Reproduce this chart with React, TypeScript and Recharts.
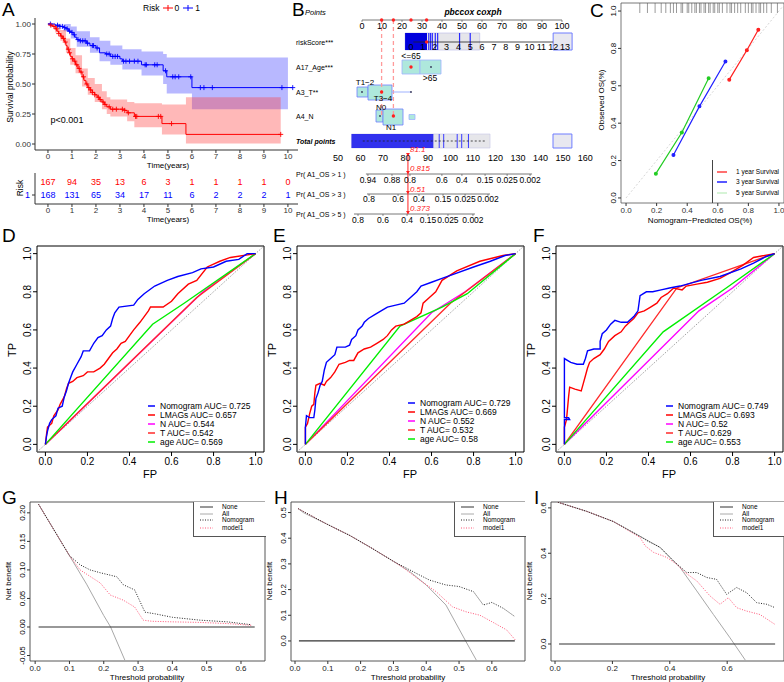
import React from "react";
import {
  ComposedChart,
  Line,
  Area,
  Scatter,
  XAxis,
  YAxis,
  ReferenceLine,
  ReferenceArea,
} from "recharts";

const FONT = "'Liberation Sans', Arial, Helvetica, sans-serif";
const RED = "#ff0000";
const BLUE = "#0000ff";

// ---------- A: Kaplan-Meier ----------
const kmTicks = [0, 1, 2, 3, 4, 5, 6, 7, 8, 9, 10];
const kmRisk0 = [
  [0, 1], [0.12, 0.99], [0.2, 0.98], [0.3, 0.96], [0.38, 0.94], [0.45, 0.92], [0.52, 0.9],
  [0.6, 0.88], [0.68, 0.85], [0.75, 0.82], [0.8, 0.79], [0.87, 0.76], [0.93, 0.73], [1.0, 0.71],
  [1.08, 0.69], [1.15, 0.66], [1.25, 0.63], [1.33, 0.6], [1.42, 0.56], [1.5, 0.53], [1.58, 0.5],
  [1.66, 0.47], [1.75, 0.45], [1.85, 0.43], [1.95, 0.41], [2.05, 0.39], [2.15, 0.37], [2.25, 0.35],
  [2.35, 0.33], [2.45, 0.31], [2.6, 0.29], [3.2, 0.28], [3.3, 0.26], [3.6, 0.23], [4.75, 0.17],
  [5.75, 0.08], [9.7, 0.08],
];
const kmRisk1 = [
  [0, 1], [0.3, 0.99], [0.5, 0.98], [0.65, 0.97], [0.75, 0.96], [0.85, 0.94], [0.95, 0.93],
  [1.05, 0.91], [1.12, 0.89], [1.2, 0.87], [1.3, 0.86], [1.6, 0.84], [1.75, 0.82], [2.0, 0.8],
  [2.15, 0.76], [2.4, 0.75], [2.6, 0.73], [3.0, 0.71], [3.1, 0.69], [3.9, 0.66], [4.8, 0.61],
  [4.95, 0.56], [6.0, 0.47], [10.2, 0.47],
];
const kmBand0 = [
  [0, 1, 1], [0.3, 0.93, 0.99], [0.52, 0.86, 0.95], [0.75, 0.76, 0.88], [0.93, 0.66, 0.8],
  [1.15, 0.59, 0.74], [1.42, 0.48, 0.63], [1.66, 0.41, 0.55], [1.95, 0.35, 0.5], [2.25, 0.29, 0.44],
  [2.45, 0.25, 0.39], [2.6, 0.23, 0.37], [3.3, 0.19, 0.35], [3.6, 0.14, 0.34], [4.75, 0.08, 0.33],
  [5.75, 0.005, 0.39], [9.7, 0.005, 0.39],
];
const kmBand1 = [
  [0, 1, 1], [0.65, 0.94, 1], [0.95, 0.88, 0.98], [1.2, 0.81, 0.94], [1.75, 0.76, 0.89],
  [2.15, 0.69, 0.86], [2.6, 0.66, 0.82], [3.1, 0.62, 0.79], [3.9, 0.57, 0.77], [4.8, 0.5, 0.75],
  [4.95, 0.42, 0.72], [6.0, 0.29, 0.72], [10.0, 0.29, 0.72],
];
const kmCensor0 = [
  0.12, 0.25, 0.35, 0.45, 0.55, 0.65, 0.72, 0.85, 0.9, 1.02, 1.12, 1.2, 1.3, 1.38, 1.48, 1.62,
  1.7, 1.78, 1.85, 1.95, 2.1, 2.18, 2.3, 2.38, 2.55, 2.7, 2.85, 3.1, 3.2, 3.35, 3.65, 3.7, 4.6,
  4.7, 5.15, 9.7,
];
const kmCensor1 = [
  0.1, 0.4, 0.5, 0.6, 0.7, 0.8, 0.9, 1.0, 1.1, 1.25, 1.35, 1.45, 1.55, 1.65, 1.85, 1.9, 2.05,
  2.45, 2.55, 2.7, 2.8, 2.9, 3.15, 3.25, 3.4, 3.6, 3.75, 4.05, 4.1, 4.45, 4.55, 4.9, 5.2, 5.3,
  5.45, 5.95, 6.35, 6.5, 6.85, 9.75, 10.2,
];
const riskN0 = [167, 94, 35, 13, 6, 3, 1, 1, 1, 1, 0];
const riskN1 = [168, 131, 65, 34, 17, 11, 6, 2, 2, 2, 1];

// ---------- B: nomogram ----------
const nomoPointTicks = [0, 10, 20, 30, 40, 50, 60, 70, 80, 90, 100];
const nomoRiskTicks = [0, 1, 2, 3, 4, 5, 6, 7, 8, 9, 10, 11, 12, 13];
const nomoRiskObs = [1.5, 1.65, 1.8, 2.05, 2.25, 4.1, 5.0];
const nomoTotalTicks = [50, 60, 70, 80, 90, 100, 110, 120, 130, 140, 150, 160];
const nomoTotalObs = [95, 97, 103, 105, 108];
const pr1Labels = ["0.94", "0.88", "0.8", "0.6", "0.4", "0.15", "0.025", "0.002"];
const pr1Totals = [63.3, 74.0, 82.0, 96.2, 105.1, 115.4, 125.2, 135.4];
const pr3Labels = ["0.8", "0.6", "0.4", "0.15", "0.025", "0.002"];
const pr3Totals = [63.8, 76.7, 86.0, 96.7, 106.5, 116.7];
const pr5Labels = ["0.8", "0.6", "0.4", "0.15", "0.025", "0.002"];
const pr5Totals = [58.9, 70.0, 80.7, 90.0, 98.9, 110.0];
const patientPoints = [32.3, 24.5, 9.8, 15.7]; // riskScore, age, T, N
const patientTotal = 81.1;
const patientProbs = ["0.815", "0.51", "0.373"];

// ---------- C: calibration ----------
const cal1 = [[0.675, 0.633], [0.79, 0.79], [0.865, 0.9]];
const cal3 = [[0.31, 0.23], [0.48, 0.49], [0.65, 0.73]];
const cal5 = [[0.195, 0.13], [0.365, 0.35], [0.54, 0.64]];
const calRug = [
  0.09, 0.14, 0.19, 0.23, 0.26, 0.29, 0.31, 0.33, 0.36, 0.37, 0.4, 0.41, 0.43, 0.45, 0.46, 0.48,
  0.49, 0.51, 0.52, 0.54, 0.55, 0.57, 0.58, 0.6, 0.61, 0.63, 0.66, 0.68, 0.69, 0.71, 0.73, 0.75,
  0.78, 0.8, 0.82, 0.83, 0.85, 0.87, 0.88, 0.9, 0.92, 0.95, 0.99,
];

// ---------- D/E/F: ROC ----------
const rocDNomogram = [
  [0, 0], [0.005, 0.04], [0.01, 0.07], [0.02, 0.11], [0.03, 0.13], [0.05, 0.15], [0.06, 0.19],
  [0.08, 0.2], [0.09, 0.25], [0.1, 0.28], [0.11, 0.32], [0.12, 0.35], [0.13, 0.38], [0.15, 0.42],
  [0.17, 0.46], [0.18, 0.49], [0.21, 0.49], [0.23, 0.53], [0.25, 0.56], [0.27, 0.57], [0.29, 0.6],
  [0.31, 0.62], [0.32, 0.66], [0.33, 0.69], [0.35, 0.72], [0.42, 0.73], [0.44, 0.76], [0.47, 0.79],
  [0.52, 0.83], [0.58, 0.86], [0.63, 0.88], [0.7, 0.9], [0.74, 0.92], [0.8, 0.93], [0.86, 0.96],
  [0.92, 0.97], [0.96, 1.0], [1, 1],
];
const rocDLmags = [
  [0, 0], [0.005, 0.05], [0.01, 0.09], [0.02, 0.1], [0.03, 0.11], [0.04, 0.15], [0.06, 0.18],
  [0.07, 0.21], [0.09, 0.25], [0.1, 0.29], [0.11, 0.32], [0.13, 0.33], [0.15, 0.35], [0.18, 0.36],
  [0.2, 0.38], [0.23, 0.38], [0.26, 0.4], [0.28, 0.42], [0.3, 0.45], [0.32, 0.48], [0.34, 0.5],
  [0.36, 0.53], [0.38, 0.54], [0.4, 0.57], [0.42, 0.6], [0.45, 0.64], [0.47, 0.67], [0.49, 0.7],
  [0.5, 0.72], [0.56, 0.72], [0.6, 0.75], [0.63, 0.79], [0.68, 0.84], [0.72, 0.86], [0.77, 0.93],
  [0.83, 0.96], [0.88, 0.98], [1, 1],
];
const rocDN = [[0, 0], [0.75, 0.8], [1, 1]];
const rocDT = [[0, 0], [0.72, 0.77], [1, 1]];
const rocDAge = [[0, 0], [0.51, 0.63], [0.66, 0.74], [1, 1]];

const rocENomogram = [
  [0, 0], [0, 0.09], [0.005, 0.15], [0.02, 0.14], [0.04, 0.14], [0.045, 0.18], [0.05, 0.24],
  [0.06, 0.27], [0.07, 0.31], [0.08, 0.33], [0.09, 0.39], [0.1, 0.43], [0.12, 0.45], [0.14, 0.47],
  [0.15, 0.51], [0.19, 0.51], [0.21, 0.52], [0.22, 0.55], [0.24, 0.57], [0.25, 0.6], [0.27, 0.62],
  [0.28, 0.64], [0.3, 0.66], [0.33, 0.68], [0.36, 0.7], [0.39, 0.72], [0.43, 0.73], [0.47, 0.74],
  [0.5, 0.77], [0.53, 0.8], [0.55, 0.83], [0.6, 0.85], [0.65, 0.87], [0.7, 0.89], [0.8, 0.93],
  [0.88, 0.96], [0.95, 0.99], [1, 1],
];
const rocELmags = [
  [0, 0], [0, 0.09], [0.01, 0.11], [0.02, 0.16], [0.03, 0.2], [0.04, 0.21], [0.045, 0.27],
  [0.05, 0.31], [0.07, 0.32], [0.09, 0.31], [0.1, 0.33], [0.12, 0.35], [0.14, 0.38], [0.16, 0.42],
  [0.19, 0.43], [0.21, 0.44], [0.23, 0.44], [0.25, 0.48], [0.28, 0.5], [0.31, 0.51], [0.34, 0.53],
  [0.37, 0.55], [0.39, 0.57], [0.41, 0.6], [0.43, 0.62], [0.47, 0.63], [0.5, 0.65], [0.53, 0.67],
  [0.55, 0.69], [0.56, 0.74], [0.59, 0.77], [0.62, 0.8], [0.65, 0.86], [0.72, 0.91], [0.83, 0.96],
  [0.94, 0.99], [1, 1],
];
const rocEN = [[0, 0], [0.6, 0.69], [0.76, 0.8], [1, 1]];
const rocET = [[0, 0], [0.69, 0.74], [1, 1]];
const rocEAge = [[0, 0], [0.45, 0.62], [0.65, 0.72], [0.77, 0.79], [1, 1]];

const rocFNomogram = [
  [0, 0], [0, 0.13], [0.025, 0.13], [0.02, 0.14], [0, 0.14], [0, 0.45], [0.03, 0.43], [0.06, 0.42],
  [0.09, 0.42], [0.1, 0.45], [0.11, 0.49], [0.14, 0.5], [0.17, 0.5], [0.17, 0.54], [0.18, 0.58],
  [0.2, 0.6], [0.22, 0.63], [0.24, 0.65], [0.27, 0.64], [0.3, 0.64], [0.33, 0.67], [0.35, 0.7],
  [0.355, 0.74], [0.36, 0.78], [0.39, 0.8], [0.42, 0.8], [0.46, 0.81], [0.5, 0.82], [0.55, 0.83],
  [0.65, 0.86], [0.74, 0.88], [0.84, 0.92], [0.9, 0.95], [0.96, 0.985], [1, 1],
];
const rocFLmags = [
  [0, 0], [0, 0.09], [0.01, 0.13], [0.02, 0.25], [0.025, 0.3], [0.05, 0.29], [0.08, 0.28],
  [0.09, 0.32], [0.1, 0.36], [0.11, 0.4], [0.12, 0.43], [0.14, 0.45], [0.17, 0.47], [0.19, 0.5],
  [0.21, 0.54], [0.24, 0.57], [0.27, 0.59], [0.29, 0.62], [0.31, 0.64], [0.33, 0.66], [0.35, 0.69],
  [0.38, 0.7], [0.41, 0.72], [0.44, 0.74], [0.46, 0.77], [0.49, 0.79], [0.52, 0.82], [0.56, 0.81],
  [0.58, 0.83], [0.63, 0.84], [0.68, 0.85], [0.74, 0.87], [0.79, 0.9], [0.85, 0.94], [0.9, 0.98],
  [1, 1],
];
const rocFN = [[0, 0], [0.64, 0.7], [0.8, 0.82], [1, 1]];
const rocFT = [[0, 0], [0.535, 0.82], [1, 1]];
const rocFAge = [[0, 0], [0.47, 0.59], [0.77, 0.82], [1, 1]];

const aucD = [0.725, 0.657, 0.544, 0.542, 0.569];
const aucE = [0.729, 0.669, 0.552, 0.532, 0.58];
const aucF = [0.749, 0.693, 0.52, 0.629, 0.553];

// ---------- G/H/I: decision curves ----------
const dcaGNone = [[0.01, 0], [0.64, 0]];
const dcaGAll = [[0.01, 0.215], [0.05, 0.175], [0.1, 0.125], [0.15, 0.075], [0.2, 0.02], [0.22, 0.0], [0.27, -0.07]];
const dcaGNomogram = [
  [0.01, 0.215], [0.05, 0.175], [0.1, 0.125], [0.131, 0.109], [0.16, 0.1], [0.19, 0.095],
  [0.238, 0.088], [0.257, 0.074], [0.29, 0.065], [0.32, 0.026], [0.35, 0.023], [0.4, 0.017],
  [0.48, 0.012], [0.56, 0.009], [0.63, 0.004],
];
const dcaGModel1 = [
  [0.01, 0.215], [0.05, 0.175], [0.1, 0.125], [0.131, 0.1], [0.19, 0.077], [0.219, 0.056],
  [0.257, 0.047], [0.29, 0.035], [0.315, 0.012], [0.34, 0.01], [0.4, 0.009], [0.48, 0.008],
  [0.56, 0.006], [0.63, 0.003],
];
const dcaHNone = [[0.012, 0], [0.67, 0]];
const dcaHAll = [
  [0.01, 0.515], [0.025, 0.5], [0.097, 0.455], [0.168, 0.41], [0.229, 0.365], [0.3, 0.31],
  [0.35, 0.27], [0.4, 0.218], [0.46, 0.14], [0.52, 0.0], [0.555, -0.08],
];
const dcaHNomogram = [
  [0.01, 0.515], [0.097, 0.455], [0.168, 0.41], [0.229, 0.365], [0.3, 0.31], [0.33, 0.29],
  [0.37, 0.263], [0.41, 0.237], [0.46, 0.218], [0.5, 0.212], [0.544, 0.192], [0.574, 0.14],
  [0.6, 0.15], [0.635, 0.127], [0.67, 0.095],
];
const dcaHModel1 = [
  [0.01, 0.515], [0.097, 0.455], [0.168, 0.41], [0.229, 0.365], [0.3, 0.31], [0.33, 0.285],
  [0.38, 0.237], [0.43, 0.192], [0.48, 0.133], [0.52, 0.114], [0.564, 0.1], [0.6, 0.075],
  [0.645, 0.043], [0.674, 0.0],
];
const dcaINone = [[0.014, 0], [0.767, 0]];
const dcaIAll = [
  [0.01, 0.625], [0.11, 0.585], [0.203, 0.54], [0.296, 0.475], [0.366, 0.426], [0.436, 0.337],
  [0.494, 0.234], [0.552, 0.13], [0.61, 0.027], [0.668, -0.08],
];
const dcaINomogram = [
  [0.01, 0.625], [0.11, 0.585], [0.203, 0.54], [0.296, 0.475], [0.32, 0.456], [0.366, 0.426],
  [0.412, 0.367], [0.459, 0.315], [0.494, 0.315], [0.529, 0.293], [0.563, 0.285], [0.598, 0.219],
  [0.633, 0.249], [0.668, 0.226], [0.703, 0.182], [0.738, 0.175], [0.767, 0.16],
];
const dcaIModel1 = [
  [0.01, 0.625], [0.11, 0.585], [0.203, 0.54], [0.296, 0.47], [0.314, 0.433], [0.343, 0.404],
  [0.389, 0.382], [0.424, 0.352], [0.453, 0.315], [0.494, 0.278], [0.54, 0.212], [0.575, 0.175],
  [0.604, 0.204], [0.633, 0.16], [0.668, 0.145], [0.714, 0.13], [0.767, 0.086],
];

// ---------- helpers ----------
const xy = (rows: number[][]) => rows.map(([x, y]) => ({ x, y }));
const stepAt = (rows: number[][], t: number) => {
  let s = rows[0][1];
  for (const r of rows) if (r[0] <= t) s = r[1];
  return s;
};

const Txt = ({ x, y, s = 8, rot = 0, anchor = "middle", color = "#000", bold = false, italic = false, children }: any) => {
  const tx = anchor === "start" ? "0" : anchor === "end" ? "-100%" : "-50%";
  return (
    <div
      style={{
        position: "absolute",
        left: x,
        top: y,
        transform: `translate(${tx}, -50%) rotate(${rot}deg)`,
        fontSize: s,
        color,
        whiteSpace: "nowrap",
        lineHeight: 1,
        fontWeight: bold ? "bold" : "normal",
        fontStyle: italic ? "italic" : "normal",
      }}
    >
      {children}
    </div>
  );
};

const Letter = ({ x, y, children }: any) => (
  <div style={{ position: "absolute", left: x, top: y, fontSize: 19, lineHeight: 1 }}>{children}</div>
);

// small legend key line drawn as svg so the colour is exact
const Key = ({ x, y, w, color, dash, width = 1.5 }: any) => (
  <svg style={{ position: "absolute", left: x, top: y - 2 }} width={w} height={4}>
    <line x1={0} x2={w} y1={2} y2={2} stroke={color} strokeWidth={width} strokeDasharray={dash} />
  </svg>
);

const rotYTick = (fs: number, fmt: (v: number) => string) => (p: any) => (
  <text
    x={p.x}
    y={p.y}
    transform={`rotate(-90 ${p.x} ${p.y})`}
    textAnchor="middle"
    fontSize={fs}
    fill="#000"
  >
    {fmt(p.payload.value)}
  </text>
);

const plusShape = (color: string) => (p: any) => (
  <g stroke={color} strokeWidth={0.9}>
    <line x1={p.cx - 2.5} x2={p.cx + 2.5} y1={p.cy} y2={p.cy} />
    <line x1={p.cx} x2={p.cx} y1={p.cy - 2.5} y2={p.cy + 2.5} />
  </g>
);

// ---------- Panel A ----------
function PanelA() {
  const curve0 = kmRisk0.map(([t, s]) => ({ t, s }));
  const curve1 = kmRisk1.map(([t, s]) => ({ t, s }));
  const band0 = kmBand0.map(([t, lo, hi]) => ({ t, lo, hi }));
  const band1 = kmBand1.map(([t, lo, hi]) => ({ t, lo, hi }));
  const cens0 = kmCensor0.map((t) => ({ t, s: stepAt(kmRisk0, t) }));
  const cens1 = kmCensor1.map((t) => ({ t, s: stepAt(kmRisk1, t) }));
  const table = [
    ...kmTicks.map((t, i) => ({ t, row: 0, n: riskN0[i], color: RED })),
    ...kmTicks.map((t, i) => ({ t, row: 1, n: riskN1[i], color: BLUE })),
  ];
  const xDom: [number, number] = [-0.54, 10.42];
  return (
    <>
      <Letter x={2} y={0}>A</Letter>
      <div style={{ position: "absolute", left: 143, top: 3, fontSize: 8.5, display: "flex", alignItems: "center" }}>
        <span style={{ marginRight: 3 }}>Risk</span>
        <svg width={10} height={8}>
          <line x1={0} x2={10} y1={4} y2={4} stroke={RED} />
          <line x1={5} x2={5} y1={1} y2={7} stroke={RED} />
        </svg>
        <span style={{ margin: "0 4px 0 2px" }}>0</span>
        <svg width={10} height={8}>
          <line x1={0} x2={10} y1={4} y2={4} stroke={BLUE} />
          <line x1={5} x2={5} y1={1} y2={7} stroke={BLUE} />
        </svg>
        <span style={{ marginLeft: 2 }}>1</span>
      </div>
      <div style={{ position: "absolute", left: 0, top: 0 }}>
        <ComposedChart width={300} height={172} margin={{ top: 18, right: 2, bottom: 0, left: 0 }}>
          <XAxis type="number" dataKey="t" domain={xDom} ticks={kmTicks} allowDataOverflow height={22}
            tickSize={3} tickMargin={0} tick={{ fontSize: 8, fill: "#333" }} stroke="#333" />
          <YAxis type="number" domain={[-0.05, 1.05]} ticks={[0, 0.25, 0.5, 0.75, 1]} allowDataOverflow width={35}
            tickSize={3} tickMargin={1} tickFormatter={(v: number) => v.toFixed(2)} tick={{ fontSize: 8, fill: "#333" }} stroke="#333" />
          <Area data={band1} dataKey={(d: any) => [d.lo, d.hi]} type="stepAfter" fill="#3a3aff" fillOpacity={0.36} stroke="none" isAnimationActive={false} />
          <Area data={band0} dataKey={(d: any) => [d.lo, d.hi]} type="stepAfter" fill="#ff3a3a" fillOpacity={0.36} stroke="none" isAnimationActive={false} />
          <Line data={curve1} dataKey="s" type="stepAfter" stroke={BLUE} strokeWidth={1} dot={false} isAnimationActive={false} />
          <Line data={curve0} dataKey="s" type="stepAfter" stroke={RED} strokeWidth={1} dot={false} isAnimationActive={false} />
          <Scatter data={cens1} dataKey="s" shape={plusShape(BLUE)} isAnimationActive={false} />
          <Scatter data={cens0} dataKey="s" shape={plusShape(RED)} isAnimationActive={false} />
        </ComposedChart>
      </div>
      <Txt x={10} y={87} s={8.5} rot={-90}>Survival probability</Txt>
      <Txt x={67} y={120} s={9}>p&lt;0.001</Txt>
      <Txt x={168} y={166} s={8}>Time(years)</Txt>
      <div style={{ position: "absolute", left: 0, top: 170 }}>
        <ComposedChart width={300} height={52} margin={{ top: 3, right: 2, bottom: 0, left: 0 }}>
          <XAxis type="number" dataKey="t" domain={xDom} ticks={kmTicks} allowDataOverflow height={18}
            tickSize={3} tickMargin={0} tick={{ fontSize: 8, fill: "#333" }} stroke="#333" />
          <YAxis type="number" dataKey="row" domain={[-0.69, 1.69]} reversed ticks={[0, 1]} width={35} tickSize={3} stroke="#333"
            tick={(p: any) => (
              <text x={p.x} y={p.y} dy="0.35em" textAnchor="end" fontSize={9} fill={p.payload.value === 0 ? RED : BLUE}>
                {p.payload.value}
              </text>
            )} />
          <Scatter data={table} dataKey="row" isAnimationActive={false}
            shape={(p: any) => (
              <text x={p.cx} y={p.cy} dy="0.35em" textAnchor="middle" fontSize={9} fill={p.payload.color}>
                {p.payload.n}
              </text>
            )} />
        </ComposedChart>
      </div>
      <Txt x={20} y={188} s={8.5} rot={-90}>Risk</Txt>
      <Txt x={168} y={220} s={8}>Time(years)</Txt>
    </>
  );
}

// ---------- Panel B ----------
const ROW = { points: 20, risk: 42, age: 67, t: 92, n: 116, total: 141, totalAxis: 151, pr1: 174, pr3: 194, pr5: 214 };
const riskPts = (s: number) => 24.5 + 5.923 * s;
const totPts = (t: number) => -12 + (t - 50) * 1.1245;

const tickShape = (dy: number, fs: number, color = "#000", tick = true) => (p: any) => (
  <g>
    {tick && <line x1={p.cx} x2={p.cx} y1={p.cy} y2={p.cy + 2} stroke="#444" strokeWidth={0.6} />}
    <text x={p.cx} y={p.cy + dy} textAnchor="middle" fontSize={fs} fill={color}>
      {p.payload.label}
    </text>
  </g>
);
const redNote = (p: any) => (
  <text x={p.cx + 2} y={p.cy} dy="0.35em" fontSize={8} fontStyle="italic" fill="#ff2020">{p.payload.label}</text>
);
const dotShape = (color: string, r: number) => (p: any) => <circle cx={p.cx} cy={p.cy} r={r} fill={color} />;
const downTri = (p: any) => (
  <path d={`M${p.cx - 2},${p.cy - 3} L${p.cx + 2},${p.cy - 3} L${p.cx},${p.cy} Z`} fill="#ff2020" />
);

function PanelB() {
  const teal = "#aee8dc";
  const edge = "#6f7dff";
  const pointsAxis = nomoPointTicks.map((v) => ({ x: v, y: ROW.points, label: String(v) }));
  const riskAxis = nomoRiskTicks.map((v) => ({ x: riskPts(v), y: ROW.risk + 5, label: String(v) }));
  const totalAxis = nomoTotalTicks.map((v) => ({ x: totPts(v), y: ROW.totalAxis, label: String(v) }));
  const prAxis = (labels: string[], totals: number[], y: number) =>
    labels.map((l, i) => ({ x: totPts(totals[i]), y, label: l }));
  const pr1 = prAxis(pr1Labels, pr1Totals, ROW.pr1);
  const pr3 = prAxis(pr3Labels, pr3Totals, ROW.pr3);
  const pr5 = prAxis(pr5Labels, pr5Totals, ROW.pr5);
  const xp = totPts(patientTotal);
  const notes = [
    { x: xp, y: 149.5, label: String(patientTotal) },
    { x: xp, y: 168, label: patientProbs[0] },
    { x: xp, y: 189, label: patientProbs[1] },
    { x: xp, y: 208.5, label: patientProbs[2] },
  ];
  const seg = (a: number, b: number, y: number) => [{ x: a, y }, { x: b, y }];
  return (
    <>
      <Letter x={292} y={0}>B</Letter>
      <Txt x={305} y={13} s={7.5} anchor="start" italic>Points</Txt>
      <Txt x={296} y={ROW.risk} s={7} anchor="start">riskScore***</Txt>
      <Txt x={296} y={ROW.age} s={7} anchor="start">A17_Age***</Txt>
      <Txt x={296} y={ROW.t} s={7} anchor="start">A3_T**</Txt>
      <Txt x={296} y={ROW.n} s={7} anchor="start">A4_N</Txt>
      <Txt x={296} y={ROW.total} s={7} anchor="start" bold italic>Total points</Txt>
      <Txt x={296} y={ROW.pr1} s={7} anchor="start">Pr( A1_OS &gt; 1 )</Txt>
      <Txt x={296} y={ROW.pr3} s={7} anchor="start">Pr( A1_OS &gt; 3 )</Txt>
      <Txt x={296} y={ROW.pr5} s={7} anchor="start">Pr( A1_OS &gt; 5 )</Txt>
      <Txt x={473} y={12} s={8.5} bold italic>pbccox coxph</Txt>
      <div style={{ position: "absolute", left: 330, top: 0 }}>
        <ComposedChart width={290} height={226} margin={{ top: 0, right: 0, bottom: 0, left: 0 }}>
          <XAxis type="number" dataKey="x" domain={[-16, 129]} hide allowDataOverflow />
          <YAxis type="number" dataKey="y" domain={[0, 226]} reversed hide allowDataOverflow />
          {/* points scale */}
          <ReferenceLine segment={seg(0, 100, ROW.points)} stroke="#555" strokeWidth={0.8} />
          <Scatter data={pointsAxis} dataKey="y" shape={tickShape(8.5, 9)} isAnimationActive={false} />
          {[patientPoints[2], patientPoints[3]].map((p, i) => (
            <ReferenceLine key={i} segment={[{ x: p, y: ROW.points }, { x: p, y: 118 }]} stroke="#ff9a9a" strokeWidth={1.3} strokeDasharray="4 3" />
          ))}
          {/* riskScore */}
          <ReferenceArea x1={riskPts(-0.5)} x2={riskPts(5.8)} y1={33} y2={50} fill="#e6e6ea" fillOpacity={1} stroke="#b8b8e8" strokeWidth={0.6} />
          <ReferenceArea x1={riskPts(-0.5)} x2={riskPts(1.35)} y1={33} y2={50} fill="#0000dd" fillOpacity={1} stroke="none" />
          <ReferenceArea x1={riskPts(12)} x2={riskPts(13.6)} y1={33} y2={50} fill="#e8e8f0" fillOpacity={1} stroke={edge} strokeWidth={1} />
          {nomoRiskObs.map((s, i) => (
            <ReferenceLine key={i} segment={[{ x: riskPts(s), y: 33 }, { x: riskPts(s), y: 50 }]} stroke="#2a2aff" strokeWidth={1.2} />
          ))}
          <ReferenceLine segment={seg(riskPts(0.2), riskPts(12), ROW.risk)} stroke="#222" strokeWidth={0.8} />
          <Scatter data={riskAxis} dataKey="y" shape={tickShape(3, 9, "#000", false)} isAnimationActive={false} />
          {/* age */}
          <ReferenceArea x1={20} x2={29} y1={60} y2={74} fill={teal} fillOpacity={1} stroke="#9fb2ff" strokeWidth={0.8} />
          <ReferenceArea x1={29} x2={39.5} y1={60} y2={74} fill={teal} fillOpacity={1} stroke="#9fb2ff" strokeWidth={0.8} />
          <Scatter data={[{ x: 24.5, y: 56, label: "<=65" }, { x: 34, y: 78, label: ">65" }]} dataKey="y"
            shape={tickShape(3, 8.5, "#000", false)} isAnimationActive={false} />
          {/* T */}
          <ReferenceLine segment={seg(15, 24.5, ROW.t)} stroke="#9fb2ff" strokeWidth={1} />
          <ReferenceArea x1={-2.5} x2={3} y1={87} y2={97} fill={teal} fillOpacity={1} stroke={edge} strokeWidth={0.8} />
          <ReferenceArea x1={3} x2={15} y1={85} y2={100} fill={teal} fillOpacity={1} stroke={edge} strokeWidth={0.8} />
          <Scatter data={[{ x: 1.5, y: 82, label: "T1−2" }, { x: 10.5, y: 98.5, label: "T3−4" }]} dataKey="y"
            shape={tickShape(2.8, 8, "#000", false)} isAnimationActive={false} />
          {/* N */}
          <ReferenceArea x1={23.5} x2={26.5} y1={114.5} y2={119.5} fill={teal} fillOpacity={1} stroke="#9fb2ff" strokeWidth={0.8} />
          <ReferenceArea x1={7} x2={10.5} y1={110} y2={122} fill={teal} fillOpacity={1} stroke={edge} strokeWidth={0.8} />
          <ReferenceArea x1={10.5} x2={20.5} y1={109} y2={125} fill={teal} fillOpacity={1} stroke={edge} strokeWidth={0.8} />
          <Scatter data={[{ x: 9.5, y: 107.5, label: "N0" }, { x: 14.5, y: 127.5, label: "N1" }]} dataKey="y"
            shape={tickShape(2.8, 8, "#000", false)} isAnimationActive={false} />
          {/* category dots */}
          <Scatter data={[{ x: 34.5, y: ROW.age }, { x: 0, y: ROW.t }, { x: 9, y: ROW.n }, { x: 24.5, y: ROW.t }]} dataKey="y"
            shape={dotShape("#335", 0.9)} isAnimationActive={false} />
          <Scatter
            data={[
              { x: patientPoints[0], y: ROW.risk },
              { x: patientPoints[1], y: ROW.age },
              { x: patientPoints[2], y: ROW.t },
              { x: patientPoints[3], y: ROW.n },
              ...patientPoints.map((p) => ({ x: p, y: ROW.points })),
            ]}
            dataKey="y" shape={dotShape("#ff2020", 1.7)} isAnimationActive={false} />
          {/* total points */}
          <ReferenceArea x1={totPts(56)} x2={totPts(117.6)} y1={134} y2={148} fill="#e6e6ea" fillOpacity={1} stroke="#c8c8e8" strokeWidth={0.6} />
          <ReferenceArea x1={totPts(56)} x2={totPts(92.4)} y1={134} y2={148} fill="#1010ee" fillOpacity={0.85} stroke="none" />
          <ReferenceArea x1={totPts(145.6)} x2={totPts(154)} y1={134} y2={148} fill="#e8e8f0" fillOpacity={1} stroke={edge} strokeWidth={1} />
          {nomoTotalObs.map((t, i) => (
            <ReferenceLine key={i} segment={[{ x: totPts(t), y: 134 }, { x: totPts(t), y: 148 }]} stroke="#3a3aff" strokeWidth={1} />
          ))}
          <ReferenceLine segment={seg(totPts(61), totPts(116), ROW.total)} stroke="#222" strokeWidth={0.8} strokeDasharray="2 2" />
          <Scatter data={totalAxis} dataKey="y" shape={tickShape(10, 9, "#000", false)} isAnimationActive={false} />
          {/* probability scales */}
          <ReferenceLine segment={seg(totPts(pr1Totals[0]) - 1, totPts(pr1Totals[pr1Totals.length - 1]) + 1, ROW.pr1)} stroke="#555" strokeWidth={0.8} />
          <ReferenceLine segment={seg(totPts(pr3Totals[0]) - 1, totPts(pr3Totals[pr3Totals.length - 1]) + 1, ROW.pr3)} stroke="#555" strokeWidth={0.8} />
          <ReferenceLine segment={seg(totPts(pr5Totals[0]) - 2, totPts(pr5Totals[pr5Totals.length - 1]) + 1, ROW.pr5)} stroke="#555" strokeWidth={0.8} />
          <Scatter data={pr1} dataKey="y" shape={tickShape(8.5, 8.5)} isAnimationActive={false} />
          <Scatter data={pr3} dataKey="y" shape={tickShape(8, 8.5)} isAnimationActive={false} />
          <Scatter data={pr5} dataKey="y" shape={tickShape(8.5, 8.5)} isAnimationActive={false} />
          {/* patient total and probabilities */}
          <ReferenceLine segment={[{ x: xp, y: 153 }, { x: xp, y: ROW.pr5 }]} stroke="#ff2020" strokeWidth={1} />
          <Scatter data={[{ x: xp, y: 156 }, { x: xp, y: ROW.pr1 }, { x: xp, y: ROW.pr3 }, { x: xp, y: ROW.pr5 }]} dataKey="y"
            shape={downTri} isAnimationActive={false} />
          <Scatter data={notes} dataKey="y" shape={redNote} isAnimationActive={false} />
        </ComposedChart>
      </div>
    </>
  );
}

// ---------- Panel C ----------
function PanelC() {
  const series = [
    { data: xy(cal1), color: "#ff2020" },
    { data: xy(cal3), color: "#2020ff" },
    { data: xy(cal5), color: "#22cc22" },
  ];
  const rug = calRug.map((x) => ({ x, y: 1.043 }));
  return (
    <>
      <Letter x={590} y={1}>C</Letter>
      <div style={{ position: "absolute", left: 596, top: 0 }}>
        <ComposedChart width={188} height={228} margin={{ top: 3, right: 0, bottom: 0, left: 0 }}>
          <XAxis type="number" dataKey="x" domain={[-0.033, 1.033]} ticks={[0, 0.2, 0.4, 0.6, 0.8, 1]} allowDataOverflow height={25}
            tickSize={3} tickMargin={1} tickFormatter={(v: number) => v.toFixed(1)} tick={{ fontSize: 8, fill: "#333" }} stroke="#333" axisLine={false} />
          <YAxis type="number" dataKey="y" domain={[-0.027, 1.043]} ticks={[0, 0.2, 0.4, 0.6, 0.8, 1]} allowDataOverflow width={25}
            tickSize={3} tickMargin={2} tick={rotYTick(8, (v) => v.toFixed(1))} stroke="#333" axisLine={false} />
          <ReferenceArea x1={-0.033} x2={1.033} y1={-0.027} y2={1.043} fill="none" fillOpacity={0} stroke="#555" strokeWidth={0.8} />
          <ReferenceLine segment={[{ x: 0, y: 0 }, { x: 1.03, y: 1.03 }]} stroke="#cccccc" strokeWidth={0.8} strokeDasharray="2 2" />
          <Scatter data={rug} dataKey="y" isAnimationActive={false}
            shape={(p: any) => <line x1={p.cx} x2={p.cx} y1={p.cy} y2={p.cy + 10} stroke="#555" strokeWidth={0.6} />} />
          {series.map((s, i) => (
            <Line key={i} data={s.data} dataKey="y" stroke={s.color} strokeWidth={1.2}
              dot={{ r: 1.4, fill: s.color, stroke: s.color }} isAnimationActive={false} />
          ))}
        </ComposedChart>
      </div>
      <Txt x={602} y={100} s={8} rot={-90}>Observed OS(%)</Txt>
      <Txt x={700} y={221} s={8}>Nomogram−Predicted OS(%)</Txt>
      <div style={{ position: "absolute", left: 712, top: 160, width: 72, height: 43, borderLeft: "1px solid #444" }} />
      {[
        ["1 year Survival", "#ff4040", 172],
        ["3 year Survival", "#2020ff", 182],
        ["5 year Survival", "#c8f0c8", 193],
      ].map(([label, color, y]: any) => (
        <React.Fragment key={label}>
          <Key x={717} y={y} w={10} color={color} />
          <Txt x={736} y={y} s={6.5} anchor="start">{label}</Txt>
        </React.Fragment>
      ))}
    </>
  );
}

// ---------- ROC panels ----------
const rocMeta = [
  { name: "Nomogram", color: "#0000ff" },
  { name: "LMAGs", color: "#ff0000" },
  { name: "N", color: "#ff00ff" },
  { name: "T", color: "#ff2a2a" },
  { name: "age", color: "#00ee00" },
];
const rocDrawOrder = [2, 3, 4, 1, 0];

function RocPanel({ left, letter, curves, aucs, legX, legY }: any) {
  const ticks = [0, 0.2, 0.4, 0.6, 0.8, 1];
  return (
    <>
      <Letter x={left + (letter === "D" ? 2 : letter === "E" ? 13 : 14)} y={226}>{letter}</Letter>
      <div style={{ position: "absolute", left, top: 240 }}>
        <ComposedChart width={265} height={242} margin={{ top: 6, right: 1, bottom: 0, left: 0 }}>
          <XAxis type="number" dataKey="x" domain={[-0.04, 1.04]} ticks={ticks} allowDataOverflow height={30}
            tickSize={4} tickMargin={2} tickFormatter={(v: number) => v.toFixed(1)} tick={{ fontSize: 10, fill: "#000" }} stroke="#000" axisLine={false} />
          <YAxis type="number" dataKey="y" domain={[-0.04, 1.04]} ticks={ticks} allowDataOverflow width={37}
            tickSize={4} tickMargin={2} tick={rotYTick(10, (v) => v.toFixed(1))} stroke="#000" axisLine={false} />
          <ReferenceArea x1={-0.04} x2={1.04} y1={-0.04} y2={1.04} fill="none" fillOpacity={0} stroke="#000" strokeWidth={1} />
          <ReferenceLine segment={[{ x: -0.04, y: -0.04 }, { x: 1.04, y: 1.04 }]} stroke="#777" strokeWidth={0.7} strokeDasharray="1.5 1.5" />
          {rocDrawOrder.map((i) => (
            <Line key={i} data={xy(curves[i])} dataKey="y" stroke={rocMeta[i].color} strokeWidth={1.4}
              dot={false} isAnimationActive={false} />
          ))}
        </ComposedChart>
      </div>
      <Txt x={left + 12} y={350} s={11} rot={-90}>TP</Txt>
      <Txt x={left + 150} y={474} s={11}>FP</Txt>
      {rocMeta.map((m, i) => (
        <React.Fragment key={m.name}>
          <Key x={legX} y={legY + i * 9} w={7} color={m.color} />
          <Txt x={legX + 12} y={legY + i * 9} s={8.5} anchor="start">{`${m.name} AUC= ${aucs[i]}`}</Txt>
        </React.Fragment>
      ))}
    </>
  );
}

// ---------- DCA panels ----------
function DcaPanel({ left, letter, xDom, yDom, xTicks, yTicks, yFmt, none, all, nom, m1, legX }: any) {
  const boxRight = left + (left === 0 ? 265 : left < 400 ? 264 : 263);
  return (
    <>
      <Letter x={left + (letter === "G" ? 2 : 13)} y={488}>{letter}</Letter>
      <div style={{ position: "absolute", left, top: 496 }}>
        <ComposedChart width={boxRight - left + 1} height={186} margin={{ top: 6, right: 1, bottom: 0, left: 0 }}>
          <XAxis type="number" dataKey="x" domain={xDom} ticks={xTicks} allowDataOverflow height={21}
            tickSize={3} tickMargin={1} tickFormatter={(v: number) => v.toFixed(1)} tick={{ fontSize: 8, fill: "#222" }} stroke="#333" axisLine={false} />
          <YAxis type="number" dataKey="y" domain={yDom} ticks={yTicks} allowDataOverflow width={30}
            tickSize={3} tickMargin={2} tick={rotYTick(8, yFmt)} stroke="#333" axisLine={false} />
          <ReferenceArea x1={xDom[0]} x2={xDom[1]} y1={yDom[0]} y2={yDom[1]} fill="none" fillOpacity={0} stroke="#444" strokeWidth={0.9} />
          <Line data={xy(all)} dataKey="y" stroke="#a8a8a8" strokeWidth={1} dot={false} isAnimationActive={false} />
          <Line data={xy(none)} dataKey="y" stroke="#333" strokeWidth={1.2} dot={false} isAnimationActive={false} />
          <Line data={xy(m1)} dataKey="y" stroke="#ff5577" strokeWidth={1} strokeDasharray="1 1.5" dot={false} isAnimationActive={false} />
          <Line data={xy(nom)} dataKey="y" stroke="#222" strokeWidth={1} strokeDasharray="1 1.5" dot={false} isAnimationActive={false} />
        </ComposedChart>
      </div>
      <Txt x={left + 9} y={581} s={8} rot={-90}>Net benefit</Txt>
      <Txt x={left + 30 + 117} y={678} s={8}>Threshold probability</Txt>
      <div style={{ position: "absolute", left: legX, top: 502, width: boxRight - legX, height: 34, borderLeft: "1px solid #555", borderBottom: "1px solid #555", background: "#fff" }} />
      {[
        ["None", "#333", undefined, 507],
        ["All", "#aaa", undefined, 514],
        ["Nomogram", "#222", "1 1.5", 520],
        ["model1", "#ff5577", "1 1.5", 528],
      ].map(([label, color, dash, y]: any) => (
        <React.Fragment key={label}>
          <Key x={legX + 7} y={y} w={13} color={color} dash={dash} width={1} />
          <Txt x={legX + 29} y={y} s={6.5} anchor="start">{label}</Txt>
        </React.Fragment>
      ))}
    </>
  );
}

export default function App() {
  return (
    <div style={{ position: "absolute", left: 0, top: 0, width: 784, height: 682, background: "#fff", overflow: "hidden", fontFamily: FONT }}>
      <PanelA />
      <PanelB />
      <PanelC />
      <RocPanel left={0} letter="D" curves={[rocDNomogram, rocDLmags, rocDN, rocDT, rocDAge]} aucs={aucD} legX={148} legY={406} />
      <RocPanel left={260} letter="E" curves={[rocENomogram, rocELmags, rocEN, rocET, rocEAge]} aucs={aucE} legX={408} legY={403} />
      <RocPanel left={519} letter="F" curves={[rocFNomogram, rocFLmags, rocFN, rocFT, rocFAge]} aucs={aucF} legX={666} legY={406} />
      <DcaPanel left={0} letter="G" xDom={[-0.015, 0.67]} yDom={[-0.0596, 0.219]}
        xTicks={[0, 0.1, 0.2, 0.3, 0.4, 0.5, 0.6]} yTicks={[-0.05, 0, 0.05, 0.1, 0.15, 0.2]}
        yFmt={(v: number) => v.toFixed(2)} none={dcaGNone} all={dcaGAll} nom={dcaGNomogram} m1={dcaGModel1} legX={193} />
      <DcaPanel left={261} letter="H" xDom={[-0.0122, 0.701]} yDom={[-0.078, 0.541]}
        xTicks={[0, 0.1, 0.2, 0.3, 0.4, 0.5, 0.6]} yTicks={[0, 0.1, 0.2, 0.3, 0.4, 0.5]}
        yFmt={(v: number) => v.toFixed(1)} none={dcaHNone} all={dcaHAll} nom={dcaHNomogram} m1={dcaHModel1} legX={454} />
      <DcaPanel left={521} letter="I" xDom={[-0.014, 0.798]} yDom={[-0.075, 0.626]}
        xTicks={[0, 0.2, 0.4, 0.6]} yTicks={[0, 0.1, 0.2, 0.3, 0.4, 0.5, 0.6]}
        yFmt={(v: number) => v.toFixed(1)} none={dcaINone} all={dcaIAll} nom={dcaINomogram} m1={dcaIModel1} legX={713} />
    </div>
  );
}
